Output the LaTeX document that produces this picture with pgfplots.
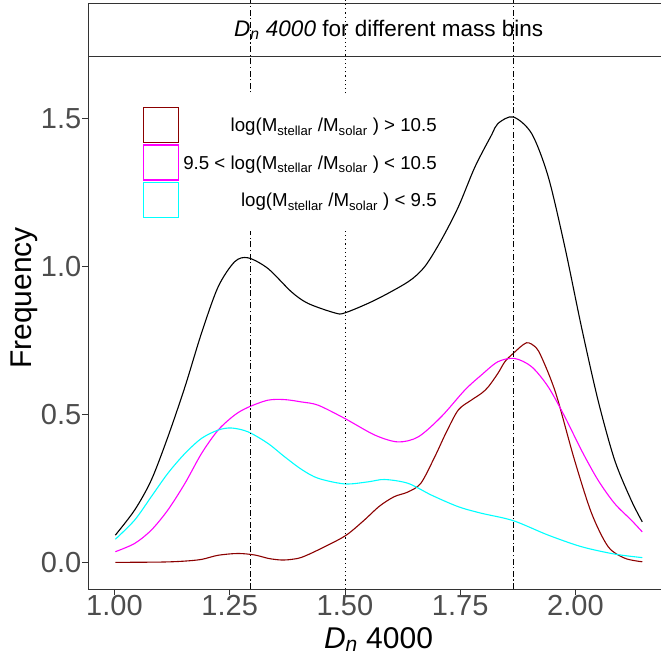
\documentclass[border=0pt]{standalone}
\usepackage{fontspec}
\setmainfont{Liberation Sans}
\usepackage{pgfplots}
\pgfplotsset{compat=1.18}
\definecolor{dred}{RGB}{139,0,0}
\definecolor{mag}{RGB}{255,0,255}
\definecolor{cya}{RGB}{0,255,255}
\definecolor{g20}{RGB}{51,51,51}
\definecolor{g30}{RGB}{77,77,77}
\newcommand{\keybox}[1]{{\setlength{\fboxrule}{1.1pt}\setlength{\fboxsep}{0pt}\fcolorbox{#1}{white}{\rule{0pt}{33.9pt}\rule{33.9pt}{0pt}}}}
\pgfplotsset{
  boxkey/.style={legend image code/.code={%
    \node[inner sep=0pt, outer sep=0pt, anchor=center] at (18pt,0.6pt) {\keybox{#1}};}},
}
\begin{document}
\begin{tikzpicture}
\begin{axis}[
  at={(0,0)}, anchor=south west,
  scale only axis, width=581pt, height=533pt,
  xmin=0.9427, xmax=2.2030, ymin=-0.090, ymax=1.711,
  clip=false,
  axis line style={g20, line width=0.8pt},
  xtick={1,1.25,1.5,1.75,2}, ytick={0,0.5,1,1.5},
  xticklabels={1.00,1.25,1.50,1.75,2.00},
  yticklabels={0.0,0.5,1.0,1.5},
  xtick pos=bottom, ytick pos=left,
  tick align=outside, major tick length=5.5pt,
  tick style={g20, line width=0.8pt},
  ticklabel style={font=\fontsize{29}{29}\selectfont, text=g30},
  yticklabel style={inner sep=1pt},
  xticklabel style={inner sep=1pt},
  xlabel={\textit{D}\textsubscript{\textit{n}} 4000},
  ylabel={Frequency},
  every axis x label/.style={at={(axis description cs:0.5,-0.1107)}, anchor=base, font=\fontsize{30}{30}\selectfont},
  every axis y label/.style={at={(axis description cs:-0.1102,0.546)}, rotate=90, anchor=center, font=\fontsize{30}{30}\selectfont},
  legend style={at={(axis description cs:0.0895,0.9274)}, anchor=north west, fill=white, draw=white,
    inner xsep=3pt, inner ysep=12pt, row sep=1.1pt, column sep=2pt,
    font=\fontsize{18.7}{18.7}\selectfont, nodes={inner sep=2pt}},
  legend cell align=right,
]
% facet strip
\draw[g20, line width=0.8pt, fill=white] (axis cs:0.9427,1.711) rectangle (axis cs:2.2030,1.890);
\node[anchor=center, font=\fontsize{22.5}{22.5}\selectfont] at (axis cs:1.595,1.800) {\textit{D\textsubscript{n} 4000} for different mass bins};

\addlegendimage{boxkey=dred}
\addlegendentry{log(M\textsubscript{stellar} /M\textsubscript{solar} ) > 10.5}
\addlegendimage{boxkey=mag}
\addlegendentry{9.5 < log(M\textsubscript{stellar} /M\textsubscript{solar} ) < 10.5}
\addlegendimage{boxkey=cya}
\addlegendentry{log(M\textsubscript{stellar} /M\textsubscript{solar} ) < 9.5}

\addplot[dred, line width=1.1pt, smooth, forget plot] coordinates {
(1.002,0.000) (1.10,0.001) (1.15,0.004) (1.189,0.010) (1.225,0.024) (1.268,0.030) (1.304,0.025) (1.335,0.013) (1.362,0.008) (1.384,0.010) (1.406,0.017) (1.442,0.042) (1.500,0.089) (1.540,0.140) (1.575,0.190) (1.607,0.222) (1.637,0.238) (1.665,0.268) (1.695,0.357) (1.720,0.440) (1.746,0.515) (1.774,0.548) (1.796,0.571) (1.811,0.593) (1.832,0.639) (1.847,0.678) (1.865,0.706) (1.894,0.742) (1.915,0.725) (1.926,0.695) (1.945,0.625) (1.962,0.548) (1.998,0.346) (2.035,0.166) (2.071,0.053) (2.107,0.014) (2.145,0.002)};

\addplot[mag, line width=1.1pt, smooth, forget plot] coordinates {
(1.002,0.036) (1.044,0.064) (1.080,0.109) (1.116,0.177) (1.153,0.267) (1.189,0.368) (1.225,0.447) (1.261,0.498) (1.290,0.524) (1.333,0.548) (1.369,0.550) (1.406,0.542) (1.442,0.531) (1.500,0.486) (1.565,0.430) (1.615,0.407) (1.659,0.424) (1.709,0.492) (1.760,0.582) (1.796,0.633) (1.832,0.678) (1.868,0.689) (1.905,0.661) (1.941,0.593) (1.977,0.492) (2.013,0.379) (2.049,0.278) (2.085,0.199) (2.121,0.143) (2.145,0.103)};

\addplot[cya, line width=1.1pt, smooth, forget plot] coordinates {
(1.002,0.078) (1.044,0.143) (1.080,0.222) (1.116,0.301) (1.153,0.368) (1.189,0.419) (1.225,0.447) (1.254,0.454) (1.290,0.441) (1.333,0.402) (1.369,0.357) (1.406,0.314) (1.442,0.284) (1.500,0.265) (1.550,0.272) (1.586,0.280) (1.637,0.267) (1.688,0.227) (1.746,0.188) (1.796,0.166) (1.865,0.141) (1.941,0.092) (2.013,0.053) (2.085,0.028) (2.145,0.016)};

\addplot[black, line width=1.1pt, smooth, forget plot] coordinates {
(1.002,0.092) (1.044,0.177) (1.080,0.278) (1.116,0.424) (1.153,0.593) (1.189,0.775) (1.225,0.931) (1.261,1.016) (1.290,1.029) (1.333,0.993) (1.384,0.914) (1.420,0.875) (1.478,0.843) (1.500,0.843) (1.565,0.886) (1.637,0.948) (1.673,0.999) (1.709,1.089) (1.746,1.201) (1.782,1.336) (1.818,1.444) (1.832,1.483) (1.865,1.505) (1.905,1.449) (1.941,1.303) (1.977,1.066) (2.013,0.796) (2.049,0.548) (2.085,0.346) (2.121,0.210) (2.145,0.137)};

\addplot[black, line width=0.8pt, dash pattern=on 6pt off 2.5pt on 1.2pt off 2.5pt, forget plot] coordinates {(1.295,-0.090) (1.295,1.90)};
\addplot[black, line width=0.8pt, dash pattern=on 1.2pt off 3pt, forget plot] coordinates {(1.500,-0.090) (1.500,1.90)};
\addplot[black, line width=0.8pt, dash pattern=on 6pt off 2.5pt on 1.2pt off 2.5pt, forget plot] coordinates {(1.866,-0.090) (1.866,1.90)};
\end{axis}
\pgfresetboundingbox
\path[use as bounding box] (-88pt,-71pt) rectangle (572pt,589pt);
\end{tikzpicture}
\end{document}
